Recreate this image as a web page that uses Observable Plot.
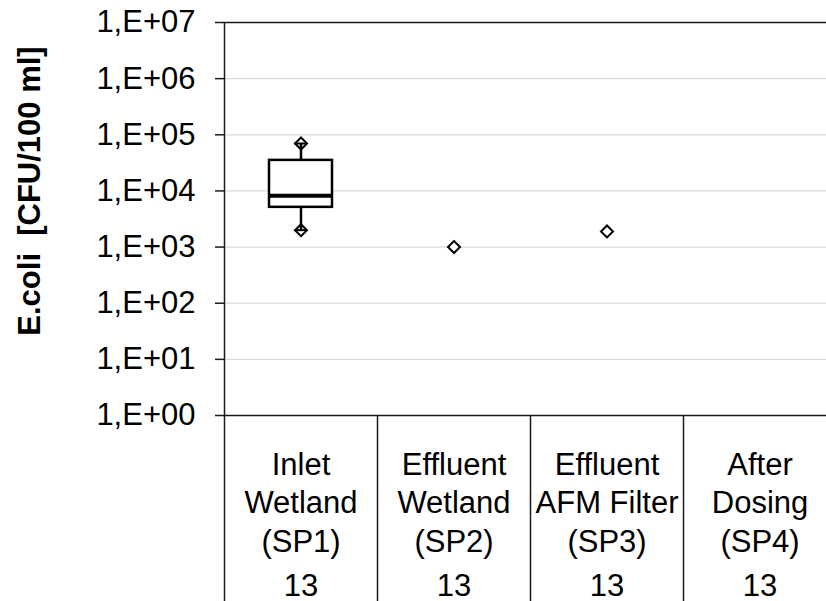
<!DOCTYPE html>
<html>
<head>
<meta charset="utf-8">
<script src="https://cdn.jsdelivr.net/npm/d3@7"></script>
<script src="https://cdn.jsdelivr.net/npm/@observablehq/plot@0.6"></script>
<style>
  html, body { margin: 0; padding: 0; overflow: hidden; background: #fff; }
  #chart { width: 826px; height: 601px; overflow: hidden; }
</style>
</head>
<body>
<div id="chart"></div>
<script>
// ---- data ----
const categories = ["SP1", "SP2", "SP3", "SP4"];
const categoryLabels = ["Inlet\nWetland\n(SP1)", "Effluent\nWetland\n(SP2)", "Effluent\nAFM Filter\n(SP3)", "After\nDosing\n(SP4)"];
const sampleCounts = [13, 13, 13, 13];

const boxCategory = ["SP1"];
const boxMin = [2.0e3];
const boxQ1 = [5.1e3];
const boxMedian = [8.2e3];
const boxQ3 = [3.5e4];
const boxMax = [7.0e4];

const pointCategory = ["SP2", "SP3"];
const pointValue = [1.0e3, 1.9e3];

const yTicks = [1e0, 1e1, 1e2, 1e3, 1e4, 1e5, 1e6, 1e7];
const gridTicks = [1e1, 1e2, 1e3, 1e4, 1e5, 1e6];
const yLabel = "E.coli  [CFU/100 ml]";

// ---- tables built from arrays ----
const boxes = boxCategory.map((c, i) => ({cat: c, min: boxMin[i], q1: boxQ1[i], med: boxMedian[i], q3: boxQ3[i], max: boxMax[i]}));
const extremes = boxes.flatMap(b => [{cat: b.cat, v: b.min}, {cat: b.cat, v: b.max}]);
const points = pointCategory.map((c, i) => ({cat: c, v: pointValue[i]}));
const cols = categories.map((c, i) => ({cat: c, label: categoryLabels[i], n: String(sampleCounts[i])}));

// ---- layout ----
const W = 836, H = 601, ML = 224, MR = 0, MT = 22, MB = 186;
const step = (W - ML - MR) / categories.length;
const font = "'Liberation Sans', Arial, sans-serif";
const fs = 31;
const dark = "#1a1a1a";

const plot = Plot.plot({
  width: W, height: H,
  marginLeft: ML, marginRight: MR, marginTop: MT, marginBottom: MB,
  style: {fontFamily: font, fontSize: fs + "px", color: "#000", background: "#fff", maxWidth: "none", overflow: "hidden"},
  x: {type: "band", domain: categories, padding: 0, axis: null},
  y: {type: "log", domain: [1, 1e7], axis: null},
  marks: [
    // gridlines
    Plot.ruleY(gridTicks, {stroke: "#d9d9d9", strokeWidth: 1.2}),
    // top & bottom frame
    Plot.ruleY([1e7, 1], {stroke: dark, strokeWidth: 1.5}),
    // y axis
    Plot.axisY({ticks: yTicks, tickFormat: d => "1,E+" + String(Math.round(Math.log10(d))).padStart(2, "0"),
      tickSize: 9, tickPadding: 20, fontSize: fs, stroke: dark, strokeWidth: 1.5, label: null}),
    // left axis line continuing into table
    Plot.ruleX([categories[0]], {x: d => d, dx: -step / 2, y1: 1e7, y2: 1e-4, stroke: dark, strokeWidth: 1.5}),
    // table separators
    Plot.ruleX(categories.slice(1), {x: d => d, dx: -step / 2, y1: 1, y2: 1e-4, stroke: dark, strokeWidth: 1.5}),
    // category labels
    Plot.text(cols, {x: "cat", text: "label", frameAnchor: "bottom", lineAnchor: "top", dy: 32, lineHeight: 1.24, fontSize: fs, fill: "#000"}),
    Plot.text(cols, {x: "cat", text: "n", frameAnchor: "bottom", lineAnchor: "top", dy: 158, fontSize: fs, fill: "#000"}),
    // y title
    Plot.text([yLabel], {frameAnchor: "left", textAnchor: "middle", dx: -194, dy: -28, rotate: -90, fontWeight: "bold", fontSize: fs, fill: "#000"}),
    // box
    Plot.barY(boxes, {x: "cat", y1: "q1", y2: "q3", fill: "#fff", stroke: "#000", strokeWidth: 2.5, insetLeft: 45, insetRight: 45}),
    // diamonds (min/max + single points)
    Plot.dot(extremes, {x: "cat", y: "v", symbol: "diamond2", r: 5.4, fill: "#fff", stroke: "#000", strokeWidth: 2}),
    Plot.dot(points, {x: "cat", y: "v", symbol: "diamond2", r: 5.4, fill: "#fff", stroke: "#000", strokeWidth: 2}),
    // whiskers
    Plot.ruleX(boxes, {x: "cat", y1: "q3", y2: "max", stroke: "#000", strokeWidth: 2.5}),
    Plot.ruleX(boxes, {x: "cat", y1: "q1", y2: "min", stroke: "#000", strokeWidth: 2.5}),
    Plot.tickY(extremes, {x: "cat", y: "v", stroke: "#000", strokeWidth: 2, insetLeft: step / 2 - 6, insetRight: step / 2 - 6}),
    // median
    Plot.tickY(boxes, {x: "cat", y: "med", stroke: "#000", strokeWidth: 4, insetLeft: 45, insetRight: 45})
  ]
});
document.getElementById("chart").appendChild(plot);
</script>
</body>
</html>
